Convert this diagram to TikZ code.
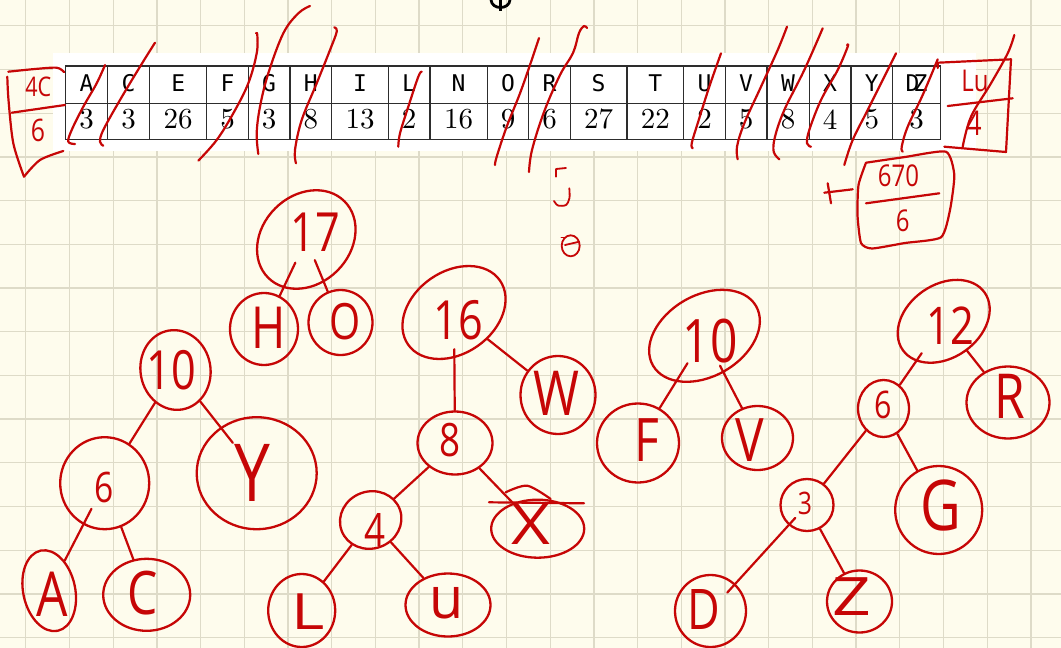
\documentclass[tikz,border=0pt]{standalone}
\usepackage{fontspec}
\usepackage{tikz}
\usetikzlibrary{shapes.geometric, positioning}
\newfontfamily\handfont[FakeStretch=0.8]{Open Sans}
\newfontfamily\cellfont{DejaVu Sans Mono}
\newfontfamily\numfont{lmroman10-regular.otf}
\definecolor{ink}{RGB}{198,6,6}
\definecolor{paper}{RGB}{254,252,237}
\definecolor{gridgray}{RGB}{222,219,200}
\definecolor{tabledark}{RGB}{45,45,45}
\tikzset{
  gridline/.style={draw=gridgray, line width=1.3pt},
  tableline/.style={draw=tabledark, line width=1.4pt},
  lettertxt/.style={font=\cellfont\fontsize{23}{23}\selectfont, inner sep=0pt, text=black},
  counttxt/.style={font=\numfont\fontsize{29}{29}\selectfont, inner sep=0pt, text=black},
  redpen/.style={draw=ink, line width=2.2pt, line cap=round, line join=round},
  ring/.style={ellipse, draw=ink, line width=2.3pt, inner sep=0pt},
  branch/.style={draw=ink, line width=2.2pt, line cap=round},
  hand/.style={text=ink, inner sep=0pt, font=\handfont\fontsize{#1}{#1}\selectfont}
}

\begin{document}
\begin{tikzpicture}[x=1pt, y=-1pt]
  % Paper and grid
  \useasboundingbox (0,0) rectangle (1061,648);
  \fill[paper] (0,0) rectangle (1061,648);
  \foreach \k in {0,...,23} \draw[gridline] ({25.8+43.7*\k},0) -- ++(0,648);
  \foreach \k in {0,...,14} \draw[gridline] (0,{25.8+43.7*\k}) -- ++(1061,0);

  % Frequency table
  \fill[white] (53,53) rectangle (976,151);
  \draw[tableline] (65.7,66) rectangle (940.3,139.3);
  \draw[tableline] (65.7,103.3) -- (940.3,103.3);
  \foreach \xl/\xr/\ch/\cnt [count=\i] in {65.7/107.3/A/3, 107.3/149.7/C/3, 149.7/206.7/E/26,
      206.7/248.3/F/5, 248.3/290/G/3, 290/331.7/H/8, 331.7/388.3/I/13, 388.3/430/L/2,
      430/487.3/N/16, 487.3/528.7/O/9, 528.7/570.3/R/6, 570.3/627/S/27, 627/683.7/T/22,
      683.7/725.3/U/2, 725.3/767/V/5, 767/809.3/W/8, 809.3/851/X/4, 851/892.7/Y/5,
      892.7/940.3/{D\kern-.25em Z}/3} {
    \draw[tableline] (\xl,66) -- (\xl,139.3);
    \node[lettertxt] (k\i) at ({(\xl+\xr)/2},83.3) {\ch};
    \node[counttxt] (v\i) at ({(\xl+\xr)/2},119.2) {\cnt};
  }

  % Pen mark at the top
  \draw[black, line width=2.8pt, line cap=round] (491,0) .. controls (492,10) and (509,10) .. (510,0);
  \draw[black, line width=2.8pt] (500.5,0) -- (500.5,11);

  % Strike-outs over the table
  \draw[redpen] plot[smooth, tension=0.6] coordinates {(75,144) (68.3,141.7) (71.7,130) (83.3,106.7) (96.7,83.3) (105,65)};
  \draw[redpen] plot[smooth, tension=0.6] coordinates {(103.3,145.7) (100,141.7) (103.3,130) (120,100) (140,66.7) (155,42.7)};
  \draw[redpen] plot[smooth, tension=0.6] coordinates {(198.3,160.7) (216.7,140) (233.3,113.3) (248.3,83.3) (256.7,53.3) (257.3,35) (256,33.3)};
  \draw[redpen] plot[smooth, tension=0.6] coordinates {(258.3,154) (256.7,133.3) (260,106.7) (268.3,73.3) (283.3,33.3) (298.3,13.3) (310,6)};
  \draw[redpen] plot[smooth, tension=0.6] coordinates {(296,163.3) (295,150) (301.7,120) (316.7,83.3) (330,50) (336.7,31.7) (334.3,27.3)};
  \draw[redpen] plot[smooth, tension=0.6] coordinates {(398.3,146.7) (400,133.3) (408.3,106.7) (418.3,76.7) (421.7,71.7)};
  \draw[redpen] plot[smooth, tension=0.6] coordinates {(495,165) (496.7,156.7) (506.7,126.7) (520,93.3) (531,62) (539,38)};
  \draw[redpen] plot[smooth, tension=0.6] coordinates {(529,172) (532,150) (544,112) (560,75) (573,53) (579,33) (584,26) (587,28)};
  \draw[redpen] plot[smooth, tension=0.6] coordinates {(692.7,148.3) (691.7,143.3) (697.7,123.3) (709.3,86.7) (721,53.3)};
  \draw[redpen] plot[smooth, tension=0.6] coordinates {(737.7,159.3) (737,146.7) (744.3,123.3) (761,86.7) (777.7,50) (787,26.7)};
  \draw[redpen] plot[smooth, tension=0.6] coordinates {(779.3,159.3) (773.7,151.7) (775,136.7) (784.3,110) (804.3,70) (822.7,28.3)};
  \draw[redpen] plot[smooth, tension=0.6] coordinates {(811,146.7) (807,143.3) (809.3,130) (821,100) (837.7,70) (847.7,46.7) (847,45)};
  \draw[redpen] plot[smooth, tension=0.6] coordinates {(844.3,165) (852.7,140) (867.7,110) (884.3,76.7) (896,53.3)};
  \draw[redpen] plot[smooth, tension=0.6] coordinates {(902.7,151.7) (901.7,146.7) (907.7,126.7) (922.7,95) (937.7,59.3)};
  \draw[redpen] plot[smooth, tension=0.6] coordinates {(962.7,146.7) (971,116.7) (991,83.3) (1007.7,53.3) (1014.3,35)};

  % Merged pair on the left
  \draw[redpen] plot[smooth, tension=0.5] coordinates {(8.3,71.7) (35,69) (56.7,67.7) (64,72)};
  \draw[redpen] plot[smooth, tension=0.5] coordinates {(7.3,76.7) (8.5,100) (13.3,143.3) (24,176.7)};
  \draw[redpen] plot[smooth, tension=0.5] coordinates {(24,176.7) (40,160) (63.3,151)};
  \draw[redpen] (11.7,112.7) -- (65,105);
  \node[hand=27] (tAC) at (38.3,87.3) {4C};
  \node[hand=31] (tACn) at (38,130) {6};

  % Merged pair on the right
  \draw[redpen] (937.7,68) -- (937.7,62.7) -- (1011,59.3) -- (1006,152) -- (944.3,146.7);
  \draw[redpen] (947.7,106) -- (1012.7,98.3);
  \node[hand=30] (tLU) at (975,81) {Lu};
  \node[hand=34] (tLUn) at (974,123) {4};

  % Merged triple below
  \draw[redpen] plot[smooth, tension=0.35] coordinates {(866,162.7) (905,157) (946,151.7) (954.3,175) (950,210) (941,237.3) (905,243) (872,248.5) (861,243) (857.5,215) (858.5,185) (866,162.7)};
  \draw[redpen] (866,203.3) -- (939.3,193.3);
  \node[hand=30] (tGZD) at (898.5,176) {670};
  \node[hand=30] (tGZDn) at (902.7,221) {6};
  \draw[redpen] (824.3,192.7) -- (852.7,189.3);
  \draw[redpen] (827.7,183.3) -- (831,203.3);

  % Small marks
  \draw[redpen, line width=1.8pt] (556,176.7) -- (556,169) -- (566,168);
  \draw[redpen, line width=1.8pt] plot[smooth] coordinates {(569.3,188.3) (569.5,198) (566,205) (558,205.5) (554,201)};
  \draw[redpen, line width=1.8pt] (570.7,245.8) ellipse [x radius=9, y radius=10.5];
  \draw[redpen, line width=1.8pt] (565,245) -- (578,242);
  \draw[redpen, line width=1.5pt] (561.3,237.3) -- (564.7,237.3);

  % Tree 17
  \node[ring, minimum width=108, minimum height=88, rotate=45] (r17) at (306.3,239.5) {};
  \node[hand=54] (t17) at (315,232) {17};
  \node[ring, minimum width=68, minimum height=72] (rH) at (264,329) {};
  \node[hand=58] (tH) at (269,328) {H};
  \node[ring, minimum width=64, minimum height=65] (rO) at (340.5,322.5) {};
  \node[hand=50] (tO) at (344.7,321.7) {O};
  \draw[branch, shorten <=-28pt] (r17) -- (rH);
  \draw[branch, shorten <=-24pt] (r17) -- (rO);

  % Tree 10 (left)
  \node[ring, minimum width=70, minimum height=80, rotate=10] (r10a) at (175.5,370) {};
  \node[hand=54] (t10a) at (171.5,370.5) {10};
  \node[ring, minimum width=89, minimum height=92] (r6a) at (104.7,483.2) {};
  \node[hand=42] (t6a) at (104,487) {6};
  \node[ring, minimum width=120, minimum height=112] (rY) at (256.7,473.2) {};
  \node[hand=80] (tY) at (252,473) {Y};
  \node[ring, minimum width=52, minimum height=82, rotate=12] (rA) at (49.2,590.7) {};
  \node[hand=62] (tA) at (52,594) {A};
  \node[ring, minimum width=87, minimum height=72] (rC) at (146.7,594.8) {};
  \node[hand=60] (tC) at (143,593) {C};
  \draw[branch] (r10a) -- (r6a);
  \draw[branch, shorten >=-20pt] (r10a) -- (rY);
  \draw[branch, shorten <=-18pt] (r6a) -- (rA);
  \draw[branch] (r6a) -- (rC);

  % Tree 16
  \node[ring, minimum width=112, minimum height=82, rotate=35] (r16) at (454,312.5) {};
  \node[hand=54] (t16) at (458,320) {16};
  \node[ring, minimum width=75, minimum height=78] (rW) at (558,395) {};
  \node[hand=62] (tW) at (556,393) {W};
  \node[ring, minimum width=75, minimum height=63] (r8) at (455,443) {};
  \node[hand=46] (t8) at (450,440) {8};
  \node[ring, minimum width=62, minimum height=57, rotate=20] (r4) at (370.7,520) {};
  \node[hand=46] (t4) at (375.5,530) {4};
  \node[ring, minimum width=93, minimum height=58] (rX) at (537.7,528.7) {};
  \node[hand=56, xscale=1.5] (tX) at (531,525) {X};
  \node[ring, minimum width=67, minimum height=73] (rL) at (301.7,610.5) {};
  \node[hand=50, xscale=1.6] (tL) at (308,612) {L};
  \node[ring, minimum width=85, minimum height=63] (rU) at (448,605) {};
  \node[hand=58, xscale=1.2] (tU) at (446.5,603) {u};
  \draw[branch, shorten <=-9pt] (r16) -- (r8);
  \draw[branch] (r16) -- (rW);
  \draw[branch] (r8) -- (r4);
  \draw[branch] (r8) -- (rX);
  \draw[branch] (r4) -- (rL);
  \draw[branch] (r4) -- (rU);
  \draw[redpen] (489,502.3) -- (584,503.3);
  \draw[redpen] plot[smooth] coordinates {(505.7,492.3) (527.3,485.7) (550.7,499)};

  % Tree 10 (right)
  \node[ring, minimum width=119, minimum height=81, rotate=30] (r10b) at (704.5,335.8) {};
  \node[hand=60] (t10b) at (710,341) {10};
  \node[ring, minimum width=82, minimum height=79] (rF) at (638,443) {};
  \node[hand=60] (tF) at (647,440.5) {F};
  \node[ring, minimum width=71, minimum height=64] (rV) at (757.5,438) {};
  \node[hand=60] (tV) at (750,440) {V};
  \draw[branch, shorten <=-22pt] (r10b) -- (rF);
  \draw[branch, shorten <=-8pt] (r10b) -- (rV);

  % Tree 12
  \node[ring, minimum width=100, minimum height=73, rotate=35] (r12) at (943.7,321.3) {};
  \node[hand=52] (t12) at (950,326) {12};
  \node[ring, minimum width=51, minimum height=57] (r6b) at (883.5,408.5) {};
  \node[hand=38] (t6b) at (883,405) {6};
  \node[ring, minimum width=83, minimum height=72] (rR) at (1008,402.5) {};
  \node[hand=62] (tR) at (1010,396) {R};
  \node[ring, minimum width=53, minimum height=52] (r3) at (807,505) {};
  \node[hand=31] (t3) at (805,503) {3};
  \node[ring, minimum width=87, minimum height=88] (rG) at (938.7,510) {};
  \node[hand=70] (tG) at (941,505) {G};
  \node[ring, minimum width=71, minimum height=72] (rD) at (710.5,611) {};
  \node[hand=56] (tD) at (703.5,610) {D};
  \node[ring, minimum width=65, minimum height=62] (rZ) at (859.5,601.5) {};
  \node[hand=53, xscale=1.6] (tZ) at (852,597) {Z};
  \draw[branch, shorten <=-10pt] (r12) -- (r6b);
  \draw[branch] (r12) -- (rR);
  \draw[branch] (r6b) -- (r3);
  \draw[branch] (r6b) -- (rG);
  \draw[branch, shorten <=-10pt, shorten >=-12pt] (r3) -- (rD);
  \draw[branch] (r3) -- (rZ);
\end{tikzpicture}
\end{document}
